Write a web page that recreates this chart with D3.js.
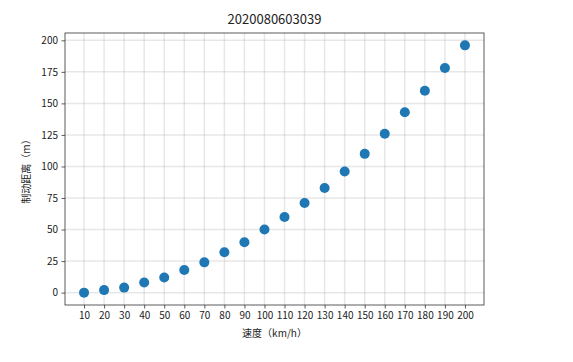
<!DOCTYPE html>
<html>
<head>
<meta charset="utf-8">
<script src="https://cdn.jsdelivr.net/npm/d3@7"></script>
<style>
  body { margin: 0; background: #fff; }
  text { font-family: "Noto Sans CJK SC", "DejaVu Sans", sans-serif; fill: #222; }
</style>
</head>
<body>
<div id="chart"></div>
<script>
// data
var speeds = [10, 20, 30, 40, 50, 60, 70, 80, 90, 100, 110, 120, 130, 140, 150, 160, 170, 180, 190, 200];
var distances = [0, 2, 4, 8, 12, 18, 24, 32, 40, 50, 60, 71, 83, 96, 110, 126, 143, 160, 178, 196];
var yTicks = [0, 25, 50, 75, 100, 125, 150, 175, 200];
var titleText = "2020080603039";
var xLabelText = "速度（km/h）";
var yLabelText = "制动距离（m）";

var svgWidth = 573;
var svgHeight = 362;
var margin = { top: 33, right: 89, bottom: 57, left: 65 };
var width = svgWidth - margin.left - margin.right;
var height = svgHeight - margin.top - margin.bottom;

var svg = d3.select("#chart").append("svg")
  .attr("width", svgWidth)
  .attr("height", svgHeight);

var chartGroup = svg.append("g")
  .attr("transform", `translate(${margin.left}, ${margin.top})`);

// matplotlib style 5% margins
var xPad = (d3.max(speeds) - d3.min(speeds)) * 0.05;
var yPad = (d3.max(distances) - d3.min(distances)) * 0.05;

var xScale = d3.scaleLinear()
  .domain([d3.min(speeds) - xPad, d3.max(speeds) + xPad])
  .range([0, width]);

var yScale = d3.scaleLinear()
  .domain([d3.min(distances) - yPad, d3.max(distances) + yPad])
  .range([height, 0]);

// grid
chartGroup.append("g").selectAll("line")
  .data(speeds)
  .enter().append("line")
  .attr("x1", d => xScale(d)).attr("x2", d => xScale(d))
  .attr("y1", 0).attr("y2", height)
  .attr("stroke", "#b0b0b0").attr("stroke-opacity", 0.3).attr("stroke-width", 1.5);

chartGroup.append("g").selectAll("line")
  .data(yTicks)
  .enter().append("line")
  .attr("y1", d => yScale(d)).attr("y2", d => yScale(d))
  .attr("x1", 0).attr("x2", width)
  .attr("stroke", "#b0b0b0").attr("stroke-opacity", 0.3).attr("stroke-width", 1.5);

// axes
var bottomAxis = d3.axisBottom(xScale).tickValues(speeds).tickSize(3.5).tickPadding(3.5);
var leftAxis = d3.axisLeft(yScale).tickValues(yTicks).tickSize(3.5).tickPadding(3.5);

var xAxis = chartGroup.append("g")
  .attr("transform", `translate(0, ${height})`)
  .call(bottomAxis);
var yAxis = chartGroup.append("g").call(leftAxis);

[xAxis, yAxis].forEach(function(ax) {
  ax.select(".domain").remove();
  ax.selectAll(".tick line").attr("stroke", "#333").attr("stroke-width", 0.8);
  ax.selectAll(".tick text").attr("font-size", "10px").style("fill", "#222")
    .style("font-family", '"Noto Sans CJK SC", "DejaVu Sans", sans-serif');
});

// frame
chartGroup.append("rect")
  .attr("width", width).attr("height", height)
  .attr("fill", "none").attr("stroke", "#333").attr("stroke-width", 0.8);

// points
chartGroup.selectAll("circle")
  .data(speeds)
  .enter()
  .append("circle")
  .attr("cx", d => xScale(d))
  .attr("cy", (d, i) => yScale(distances[i]))
  .attr("r", 5)
  .attr("fill", "#1f77b4");

// title and labels
svg.append("text")
  .attr("x", margin.left + width / 2)
  .attr("y", 24)
  .attr("text-anchor", "middle")
  .attr("font-size", "13px")
  .text(titleText);

svg.append("text")
  .attr("x", margin.left + width / 2)
  .attr("y", 337)
  .attr("text-anchor", "middle")
  .attr("font-size", "10px")
  .text(xLabelText);

svg.append("text")
  .attr("transform", `translate(30, ${margin.top + height / 2}) rotate(-90)`)
  .attr("text-anchor", "middle")
  .attr("font-size", "10px")
  .text(yLabelText);
</script>
</body>
</html>
